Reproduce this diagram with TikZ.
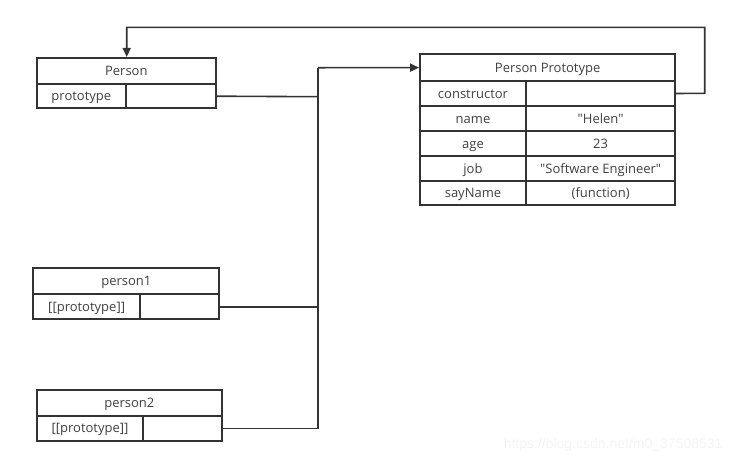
\documentclass[tikz,border=0pt]{standalone}
\usepackage{fontspec}
\setmainfont{Open Sans}
\newfontfamily\wmfont{Liberation Sans}
\usetikzlibrary{arrows.meta}
\definecolor{ink}{HTML}{333333}
\definecolor{txt}{HTML}{404040}
\definecolor{wm}{HTML}{F4F4F4}
\begin{document}
\begin{tikzpicture}[x=1pt,y=-1pt,
  cell/.style={draw=ink,line width=1.8pt,minimum height=0pt,inner sep=0pt,text height=10.5pt,text depth=1.5pt,font=\fontsize{13}{15}\selectfont,text=txt},
  wire/.style={draw=ink,line width=1.6pt},
  arr/.style={wire,-{Triangle[length=9pt,width=8pt]}}]
\useasboundingbox (0,0) rectangle (734,464);
% Person
\node[cell,minimum width=179.3pt,minimum height=26.3pt] (P) at (126.35,71) {Person};
\node[cell,minimum width=89.3pt,minimum height=24.3pt] (Pk) at (81.35,96.2) {prototype};
\node[cell,minimum width=90pt,minimum height=24.3pt] (Pv) at (171,96.2) {};
% person1
\node[cell,minimum width=186pt,minimum height=26.3pt] (A) at (126.3,280.9) {person1};
\node[cell,minimum width=106.7pt,minimum height=25.3pt] (Ak) at (86.65,306.7) {[[prototype]]};
\node[cell,minimum width=79.3pt,minimum height=25.3pt] (Av) at (179.65,306.7) {};
% person2
\node[cell,minimum width=185.3pt,minimum height=25.7pt] (B) at (129.35,402.9) {person2};
\node[cell,minimum width=106.6pt,minimum height=25.3pt] (Bk) at (90,428.35) {[[prototype]]};
\node[cell,minimum width=78.7pt,minimum height=25.3pt] (Bv) at (182.65,428.35) {};
% Person Prototype
\node[cell,minimum width=255.3pt,minimum height=26.7pt] (PP) at (547.65,67.65) {Person Prototype};
\foreach \n/\k/\v/\y/\h in {c/constructor//93.5/25,
  n/name/\textquotedbl Helen\textquotedbl/118.5/25,
  a/age/23/143.65/25.3,
  j/job/\textquotedbl Software Engineer\textquotedbl/168.8/25,
  s/sayName/(function)/193.3/24}{
  \node[cell,minimum width=106pt,minimum height=\h pt] (\n k) at (473,\y) {\k};
  \node[cell,minimum width=149.3pt,minimum height=\h pt] (\n v) at (600.65,\y) {\v};
}
% connectors
\coordinate (J) at (318,67.7);
\coordinate (Jb) at (318,428.35);
\draw[wire] (Pv.east) -- (318,96.7);
\draw[wire] (Av.east) -- (318,306.7);
\draw[wire] (Bv.east) -- (Jb) -- (J);
\draw[arr] (J) -- (PP.west);
\coordinate (R1) at (704.7,93.3);
\coordinate (R2) at (704.7,27.3);
\coordinate (L2) at (126.7,27.3);
\draw[arr] (cv.east) -- (R1) -- (R2) -- (L2) -- (P.north -| L2);
% watermark
\node[text=wm,font=\wmfont\fontsize{14}{16}\selectfont,anchor=east] (wmk) at (726,445) {https://blog.csdn.net/m0\_37508531};
\end{tikzpicture}
\end{document}
